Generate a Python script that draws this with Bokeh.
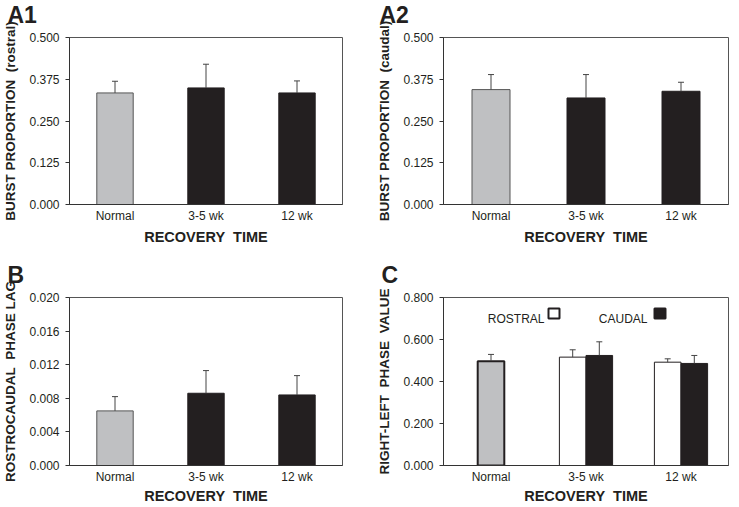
from bokeh.plotting import figure
from bokeh.layouts import gridplot
from bokeh.models import (ColumnDataSource, FactorRange, Range1d, FixedTicker,
                          NumeralTickFormatter, Label, BoxAnnotation)
from bokeh.transform import dodge, factor_cmap
from bokeh.embed import file_html
from bokeh.resources import INLINE

# ---------------- data ----------------
categories = ["Normal", "3-5 wk", "12 wk"]

a1_mean = [0.334, 0.349, 0.334]
a1_sem = [0.035, 0.071, 0.036]

a2_mean = [0.344, 0.319, 0.339]
a2_sem = [0.045, 0.070, 0.027]

b_mean = [0.0065, 0.0086, 0.0084]
b_sem = [0.0017, 0.0027, 0.0023]

c_groups = ["3-5 wk", "12 wk"]
c_normal_mean = [0.497]
c_normal_sem = [0.032]
c_rostral_mean = [0.516, 0.492]
c_rostral_sem = [0.035, 0.016]
c_caudal_mean = [0.524, 0.486]
c_caudal_sem = [0.065, 0.038]

a_ticks = [0.0, 0.125, 0.25, 0.375, 0.5]
b_ticks = [0.0, 0.004, 0.008, 0.012, 0.016, 0.020]
c_ticks = [0.0, 0.2, 0.4, 0.6, 0.8]

# ---------------- style ----------------
FONT = "Liberation Sans"
GREY = "#bfc0c2"
BLACK = "#231f20"
TXT = "#231f20"

TOP_FH = 167
BOT_FH = 168


def base_fig(fw, fh, bl, br, bt, bb, ylabel, ticks, fmt, top_row, letter, loff, lup):
    p = figure(frame_width=fw, frame_height=fh, x_range=FactorRange(*categories),
               y_range=Range1d(ticks[0], ticks[-1]), output_backend="svg",
               toolbar_location=None, tools="",
               min_border_left=bl, min_border_right=br,
               min_border_top=bt, min_border_bottom=bb)
    p.background_fill_color = "white"
    p.border_fill_color = "white"
    p.outline_line_color = "#555555"
    p.outline_line_width = 1
    p.grid.visible = False
    p.x_range.range_padding = 0

    # panel letter, drawn in the panel above the frame
    p.add_layout(Label(x=loff, y=lup, x_units="screen", y_units="screen",
                       text=letter, text_font=FONT, text_font_size="23px",
                       text_font_style="bold", text_color=TXT,
                       text_baseline="alphabetic"), "above")

    ya = p.yaxis[0]
    ya.ticker = FixedTicker(ticks=ticks)
    ya.formatter = NumeralTickFormatter(format=fmt)
    ya.minor_tick_line_color = None
    ya.major_tick_out = 4
    ya.major_tick_in = 0
    ya.major_tick_line_color = "#333333"
    ya.axis_line_color = "#333333"
    ya.major_label_text_font = FONT
    ya.major_label_text_font_size = "12px"
    ya.major_label_text_color = TXT
    ya.major_label_standoff = 6
    ya.axis_label = ylabel
    ya.axis_label_text_font = FONT
    ya.axis_label_text_font_size = "13.5px"
    ya.axis_label_text_font_style = "bold"
    ya.axis_label_text_color = TXT
    ya.axis_label_standoff = 8

    xa = p.xaxis[0]
    xa.major_tick_out = 0
    xa.major_tick_in = 0
    xa.major_tick_line_color = None
    xa.minor_tick_line_color = None
    xa.axis_line_color = "#333333"
    xa.major_label_text_font = FONT
    xa.major_label_text_font_size = "12px"
    xa.major_label_text_color = TXT
    xa.major_label_standoff = 4
    xa.axis_label = "RECOVERY\u00a0 TIME"
    xa.axis_label_text_font = FONT
    xa.axis_label_text_font_size = "14.5px"
    xa.axis_label_text_font_style = "bold"
    xa.axis_label_text_color = TXT
    xa.axis_label_standoff = 3 if top_row else 1
    return p


def simple_bars(p, mean, sem, width):
    upper = [m + s for m, s in zip(mean, sem)]
    src = ColumnDataSource(dict(cat=categories, mean=mean, upper=upper))
    p.vbar(x="cat", top="mean", bottom=0, width=width, source=src,
           fill_color=factor_cmap("cat", palette=[GREY, BLACK, BLACK], factors=categories),
           line_color=factor_cmap("cat", palette=["#555555", BLACK, BLACK], factors=categories),
           line_width=1)
    p.segment(x0="cat", x1="cat", y0="mean", y1="upper", source=src,
              line_color="#444444", line_width=1)
    p.scatter(x="cat", y="upper", marker="dash", size=6, source=src,
              line_color="#444444", line_width=1)


# ---- A1 ----
p1 = base_fig(273, TOP_FH, 62, 27, 37, 46, "BURST PROPORTION\u00a0 (rostral)",
              a_ticks, "0.000", True, "A1", -62, 23)
simple_bars(p1, a1_mean, a1_sem, 0.4)

# ---- A2 ----
p2 = base_fig(285, TOP_FH, 74, 2, 37, 46, "BURST PROPORTION\u00a0 (caudal)",
              a_ticks, "0.000", True, "A2", -64, 23)
simple_bars(p2, a2_mean, a2_sem, 0.4)

# ---- B ----
p3 = base_fig(273, BOT_FH, 62, 27, 47, 41, "ROSTROCAUDAL\u00a0 PHASE LAG",
              b_ticks, "0.000", False, "B", -62, 23)
simple_bars(p3, b_mean, b_sem, 0.4)

# ---- C ----
p4 = base_fig(285, BOT_FH, 74, 2, 47, 41, "RIGHT-LEFT\u00a0 PHASE\u00a0 VALUE",
              c_ticks, "0.000", False, "C", -62, 23)
nsrc = ColumnDataSource(dict(cat=categories[:1], mean=c_normal_mean,
                             upper=[m + s for m, s in zip(c_normal_mean, c_normal_sem)]))
p4.vbar(x="cat", top="mean", bottom=0, width=0.28, source=nsrc,
        fill_color=GREY, line_color=BLACK, line_width=2)
p4.segment(x0="cat", x1="cat", y0="mean", y1="upper", source=nsrc,
           line_color="#444444", line_width=1)
p4.scatter(x="cat", y="upper", marker="dash", size=6, source=nsrc,
           line_color="#444444", line_width=1)

for mean, sem, off, fill in [(c_rostral_mean, c_rostral_sem, -0.14, "white"),
                             (c_caudal_mean, c_caudal_sem, 0.14, BLACK)]:
    src = ColumnDataSource(dict(cat=c_groups, mean=mean,
                                upper=[m + s for m, s in zip(mean, sem)]))
    xd = dodge("cat", off, range=p4.x_range)
    p4.vbar(x=xd, top="mean", bottom=0, width=0.28, source=src,
            fill_color=fill, line_color=BLACK, line_width=1)
    p4.segment(x0=xd, x1=xd, y0="mean", y1="upper", source=src,
               line_color="#444444", line_width=1)
    p4.scatter(x=xd, y="upper", marker="dash", size=6, source=src,
               line_color="#444444", line_width=1)

# legend (text then box), screen units measured from the frame's left / bottom
for txt, xr, bx0, bx1, fill in [("ROSTRAL", 101, 105, 116, "white"),
                                ("CAUDAL", 204, 211, 222, BLACK)]:
    p4.add_layout(Label(x=xr, y=c_ticks[-1], x_units="screen", y_units="data",
                        y_offset=-21, text=txt, text_font=FONT,
                        text_font_size="12px", text_color=TXT,
                        text_align="right", text_baseline="alphabetic"))
    p4.add_layout(BoxAnnotation(left=bx0, right=bx1, top=BOT_FH - 11, bottom=BOT_FH - 21,
                                left_units="screen", right_units="screen",
                                top_units="screen", bottom_units="screen",
                                fill_color=fill, fill_alpha=1.0,
                                line_color=BLACK, line_width=2, line_alpha=1.0))

grid = gridplot([[p1, p2], [p3, p4]], toolbar_location=None)

open("out.html", "w").write(file_html(grid, INLINE))
